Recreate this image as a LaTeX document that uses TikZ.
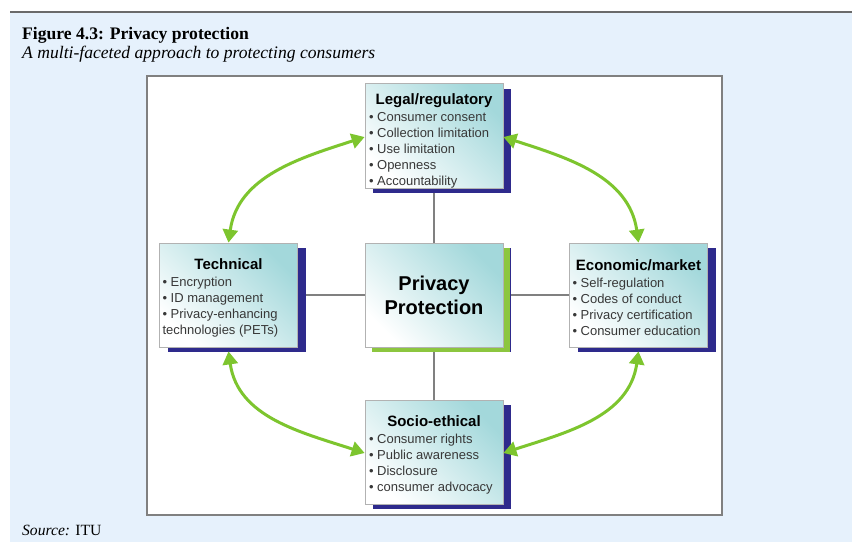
\documentclass[tikz,border=0pt]{standalone}
\usepackage{fontspec}
\setmainfont{Liberation Serif}
\setsansfont{Liberation Sans}
\usetikzlibrary{arrows.meta,shadows}
\definecolor{bgblue}{HTML}{E6F1FC}
\definecolor{shadowblue}{HTML}{2E2A8C}
\definecolor{shadowgreen}{HTML}{8CC63F}
\definecolor{arrowgreen}{HTML}{7DC52E}
\definecolor{boxteal}{HTML}{A3D8DB}
\definecolor{itemgray}{HTML}{383838}
\definecolor{linegray}{HTML}{808080}
\definecolor{topline}{HTML}{6A6A6A}
\pgfdeclarelayer{back}
\pgfdeclarelayer{mid}
\pgfsetlayers{back,mid,main}
\newcommand{\boxhead}[1]{{\centering\fontsize{15}{18}\selectfont\bfseries\color{black}#1\par}}
\newcommand{\boxitems}[1]{{\raggedright\fontsize{13}{16}\selectfont\color{itemgray}#1\par}}
\newcommand{\bul}{\textbullet\ }
\begin{document}
\begin{tikzpicture}[x=1pt,y=1pt,
  box/.style={draw=gray!60, line width=0.8pt, minimum width=138pt, minimum height=104pt,
    inner sep=0pt, top color=boxteal, bottom color=white, shading angle=-45,
    font=\sffamily, align=left,
    drop shadow={shadow xshift=8pt, shadow yshift=-5pt, fill=shadowblue, opacity=1}},
  centerbox/.style={box, drop shadow={shadow xshift=7pt, shadow yshift=-5pt, fill=shadowgreen, opacity=1}},
  connector/.style={draw=linegray, line width=1.8pt},
  garrow/.style={draw=arrowgreen, line width=3pt,
    {Triangle[length=13pt,width=15pt]}-{Triangle[length=13pt,width=15pt]}},
  txt/.style={inner sep=0pt, anchor=west}
]
\useasboundingbox (0,0) rectangle (852,-542);
\begin{pgfonlayer}{back}
  \fill[white] (0,0) rectangle (852,-542);
  \fill[bgblue] (10,-13) rectangle (852,-542);
  \draw[topline, line width=2.5pt] (10,-12) -- (852,-12);
  \draw[linegray, line width=2pt, fill=white] (147,-76) rectangle (722,-515);
\end{pgfonlayer}

\node[txt] (title) at (22,-35) {\fontsize{17.6}{20}\selectfont\bfseries Figure 4.3: Privacy protection};
\node[txt] (subtitle) at (22,-54) {\fontsize{17.6}{20}\selectfont\itshape A multi-faceted approach to protecting consumers};
\node[txt] (source) at (22,-530) {\fontsize{15.6}{18}\selectfont\textit{Source:} ITU};

\node[box] (legal) at (434,-136) {\begin{minipage}{130pt}\vspace*{10pt}
  \boxhead{Legal/regulatory}\vspace{1pt}
  \boxitems{\bul Consumer consent\\\bul Collection limitation\\\bul Use limitation\\\bul Openness\\\bul Accountability}
  \end{minipage}};
\node[box] (tech) at (228.5,-295) {\begin{minipage}{132pt}\vspace*{6pt}
  \boxhead{Technical}\vspace{1pt}
  \boxitems{\bul Encryption\\\bul ID management\\\bul Privacy-enhancing\\technologies (PETs)}
  \end{minipage}};
\node[centerbox, align=center, font=\sffamily\bfseries\fontsize{20}{24}\selectfont] (center) at (434,-295) {Privacy\\Protection};
\node[box] (econ) at (638.5,-295) {\begin{minipage}{132pt}\vspace*{5pt}
  \boxhead{Economic/market}\vspace{1pt}
  \boxitems{\bul Self-regulation\\\bul Codes of conduct\\\bul Privacy certification\\\bul Consumer education}
  \end{minipage}};
\node[box] (socio) at (434,-452) {\begin{minipage}{130pt}\vspace*{5pt}
  \boxhead{Socio-ethical}\vspace{1pt}
  \boxitems{\bul Consumer rights\\\bul Public awareness\\\bul Disclosure\\\bul consumer advocacy}
  \end{minipage}};

\begin{pgfonlayer}{mid}
  \draw[connector] (center.north) -- (legal.south);
  \draw[connector] (center.west) -- (tech.east);
  \draw[connector] (center.east) -- (econ.west);
  \draw[connector] (center.south) -- (socio.north);
\end{pgfonlayer}

\coordinate (legalW) at ([yshift=-1pt]legal.west);
\coordinate (legalE) at ([yshift=-1pt]legal.east);
\coordinate (techS) at ([yshift=-4pt]tech.south);
\coordinate (econS) at ([yshift=-4pt]econ.south);
\coordinate (socioW) at ([yshift=-1pt]socio.west);
\coordinate (socioE) at ([yshift=-1pt]socio.east);
\draw[garrow] (tech.north) to[out=82,in=198] (legalW);
\draw[garrow] (econ.north) to[out=98,in=-18] (legalE);
\draw[garrow] (techS) to[out=-82,in=162] (socioW);
\draw[garrow] (econS) to[out=-98,in=18] (socioE);
\end{tikzpicture}
\end{document}
